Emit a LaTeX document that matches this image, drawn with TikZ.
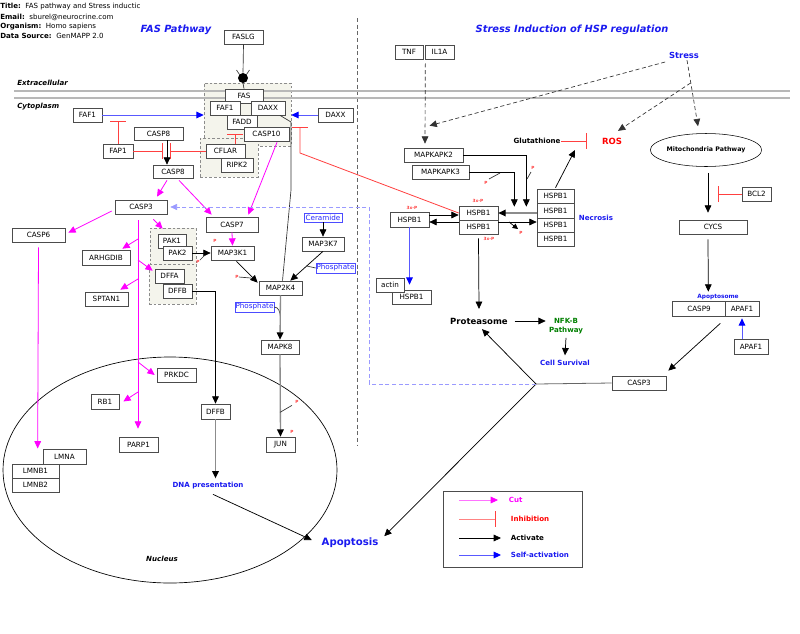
\documentclass[tikz,border=0pt]{standalone}
\usepackage{fontspec}
\setmainfont{DejaVu Sans}
\usetikzlibrary{arrows.meta,fit,calc,shapes.geometric}
\definecolor{inhred}{HTML}{FF4040}
\definecolor{grpfill}{HTML}{F4F4EC}
\definecolor{ttlblue}{HTML}{1A1AF0}
\definecolor{lav}{HTML}{9A9AFF}
\definecolor{nfk}{HTML}{008000}
\definecolor{magc}{HTML}{FF00FF}
\newcommand\fsz[1]{\fontsize{#1}{#1}\selectfont}
\newcommand\nbox[6]{\node[box, minimum width={(#4-#2)*0.75pt}, minimum height={(#5-#3)*0.75pt}] (#1) at ({(#2+#4)/2},{(#3+#5)/2}) {#6};}
\newcommand\lbox[6]{\node[lblbox, minimum width={(#4-#2)*0.75pt}, minimum height={(#5-#3)*0.75pt}] (#1) at ({(#2+#4)/2},{(#3+#5)/2}) {#6};}
\tikzset{
 box/.style={draw=black!70, fill=white, inner sep=0pt, line width=0.5pt, font=\fsz{5.4}},
 grp/.style={draw=black!45, dash pattern=on 2pt off 1.5pt, fill=grpfill, inner sep=0pt, line width=0.4pt},
 lblbox/.style={draw=blue!70, fill=white, inner sep=0pt, text=blue!85, font=\fsz{5.4}},
 txt/.style={inner sep=0.5pt, font=\fsz{5.3}\bfseries},
 hdr/.style={inner sep=0pt, anchor=west, font=\fsz{5.3}},
 pm/.style={inner sep=0pt, text=inhred, font=\fsz{3.2}\bfseries},
 ln/.style={draw=black!80, line width=0.5pt},
 act/.style={draw=black, line width=0.55pt, -{Triangle[length=5.5pt,width=5pt]}},
 gact/.style={draw=black!45, line width=1pt, -{Triangle[length=5.5pt,width=5pt,color=black]}},
 cut/.style={draw=magc, line width=0.6pt, -{Triangle[length=5.5pt,width=5pt]}},
 inh/.style={draw=inhred, line width=0.6pt, -{Bar[width=12pt,line width=0.9pt]}},
 self/.style={draw=blue!65, line width=0.7pt, -{Triangle[length=5.5pt,width=5pt,color=blue]}},
 dact/.style={draw=black!80, line width=0.5pt, dash pattern=on 3pt off 2pt, -{Triangle[length=5.5pt,width=5pt]}},
 lavd/.style={draw=lav, line width=0.5pt, dash pattern=on 3pt off 2pt, -{Triangle[length=5pt,width=4.5pt,color=lav]}},
}
\begin{document}
\begin{tikzpicture}[x=0.75pt,y=-0.75pt]
\fill[white] (0,0) rectangle (800,633);
\path[use as bounding box] (0,0) rectangle (800,633);

% header
\node[hdr] (h1) at (0,7) {\textbf{Title:}~~FAS pathway and Stress inductic};
\node[hdr] (h2) at (0,17) {\textbf{Email:}~~sburel@neurocrine.com};
\node[hdr] (h3) at (0,27) {\textbf{Organism:}~~Homo sapiens};
\node[hdr] (h4) at (0,35.5) {\textbf{Data Source:}~~GenMAPP 2.0};
\node[inner sep=0pt, text=ttlblue, font=\fsz{7.4}\bfseries\itshape] (t1) at (176,30) {FAS Pathway};
\node[inner sep=0pt, text=ttlblue, font=\fsz{7.4}\bfseries\itshape] (t2) at (572,30) {Stress Induction of HSP regulation};
\node[hdr, font=\fsz{5.3}\bfseries\itshape] (extra) at (17,83) {Extracellular};
\node[hdr, font=\fsz{5.3}\bfseries\itshape] (cyto) at (17,107) {Cytoplasm};

% divider
\draw[black!60, dash pattern=on 3pt off 2pt, line width=0.5pt] (357,18) -- (357,445);

% groups
\node[grp, fit={(204,83) (291,146)}] (fasgrp) {};
\node[grp, fit={(200,138) (258,177)}] (cflgrp) {};
\node[grp, fit={(150,228) (196,264)}] (pakgrp) {};
\node[grp, fit={(149,264) (196,304)}] (dffgrp) {};

% membrane
\draw[black!28, line width=1.3pt] (14,91) -- (790,91);
\draw[black!28, line width=1.3pt] (14,98) -- (790,98);

% nucleus
\draw[line width=0.5pt] (170,470) ellipse [x radius=125.25pt, y radius=84.75pt];
\node[inner sep=0pt, font=\fsz{5.3}\bfseries\itshape] (nucl) at (162,559) {Nucleus};

% FAS complex
\nbox{faslg}{224}{30}{263}{44}{FASLG}
\node[circle, fill=black, inner sep=0pt, minimum size=7.5pt] (dot) at (243,78) {};
\nbox{fas}{225}{89}{263}{103}{FAS}
\nbox{faf1in}{210}{101}{240}{115}{FAF1}
\nbox{daxxin}{251}{101}{285}{115}{DAXX}
\nbox{fadd}{227}{115}{257}{129}{FADD}
\nbox{casp10}{244}{127}{289}{141}{CASP10}
\nbox{cflar}{206}{144}{245}{158}{CFLAR}
\nbox{ripk2}{221}{158}{253}{172}{RIPK2}
\nbox{faf1}{73}{108}{102}{122}{FAF1}
\nbox{daxx}{318}{108}{353}{122}{DAXX}
\nbox{casp8a}{134}{127}{183}{140}{CASP8}
\nbox{fap1}{103}{144}{133}{158}{FAP1}
\nbox{casp8b}{153}{165}{193}{178}{CASP8}
\nbox{casp3}{115}{200}{167}{214}{CASP3}
\nbox{casp6}{12}{228}{65}{242}{CASP6}
\nbox{arhgdib}{82}{250}{130}{265}{ARHGDIB}
\nbox{sptan1}{85}{292}{128}{306}{SPTAN1}
\nbox{pak1}{158}{234}{186}{248}{PAK1}
\nbox{pak2}{163}{246}{192}{260}{PAK2}
\nbox{dffa}{155}{269}{184}{283}{DFFA}
\nbox{dffb}{163}{284}{192}{298}{DFFB}
\nbox{casp7}{206}{217}{258}{232}{CASP7}
\nbox{map3k1}{211}{246}{254}{260}{MAP3K1}
\nbox{map2k4}{259}{281}{302}{295}{MAP2K4}
\nbox{map3k7}{302}{237}{344}{251}{MAP3K7}
\nbox{mapk8}{261}{340}{299}{354}{MAPK8}
\nbox{jun}{266}{437}{295}{452}{JUN}
\nbox{prkdc}{157}{368}{196}{382}{PRKDC}
\nbox{rb1}{91}{394}{119}{409}{RB1}
\nbox{parp1}{119}{437}{158}{452}{PARP1}
\nbox{lmna}{43}{449}{86}{464}{LMNA}
\nbox{lmnb1}{12}{464}{59}{478}{LMNB1}
\nbox{lmnb2}{12}{478}{59}{492}{LMNB2}
\nbox{dffb2}{201}{404}{230}{419}{DFFB}
\lbox{ceramide}{304}{213}{342}{222}{Ceramide}
\lbox{phos1}{316}{263}{355}{273}{Phosphate}
\lbox{phos2}{235}{302}{274}{312}{Phosphate}

% right side nodes
\nbox{tnf}{395}{45}{423}{59}{TNF}
\nbox{il1a}{425}{45}{454}{59}{IL1A}
\nbox{mapkapk2}{404}{148}{463}{162}{MAPKAPK2}
\nbox{mapkapk3}{412}{165}{469}{179}{MAPKAPK3}
\nbox{hspb1l}{390}{212}{429}{227}{HSPB1}
\nbox{hspb1ca}{459}{206}{498}{220}{HSPB1}
\nbox{hspb1cb}{459}{220}{498}{234}{HSPB1}
\nbox{hspb1ra}{537}{189}{574}{203}{HSPB1}
\nbox{hspb1rb}{537}{203}{574}{218}{HSPB1}
\nbox{hspb1rc}{537}{218}{574}{232}{HSPB1}
\nbox{hspb1rd}{537}{232}{574}{246}{HSPB1}
\nbox{hspb1a}{392}{290}{431}{304}{HSPB1}
\nbox{actin}{376}{278}{404}{292}{actin}
\nbox{bcl2}{742}{187}{771}{201}{BCL2}
\nbox{cycs}{679}{220}{747}{234}{CYCS}
\nbox{casp9}{672}{301}{726}{316}{CASP9}
\nbox{apaf1a}{725}{301}{759}{316}{APAF1}
\nbox{apaf1b}{734}{339}{768}{354}{APAF1}
\nbox{casp3r}{612}{376}{666}{390}{CASP3}
\node[draw, ellipse, inner sep=0pt, minimum width=78pt, minimum height=24.75pt, font=\fsz{4.7}\bfseries] (mito) at (706,150) {Mitochondria Pathway};

% text labels
\node[txt, text=ttlblue, font=\fsz{6.3}\bfseries] (stress) at (684,55) {Stress};
\node[txt, text=red, font=\fsz{6.4}\bfseries] (ros) at (612,141) {ROS};
\node[txt] (glut) at (537,141) {Glutathione};
\node[txt, text=ttlblue] (necro) at (596,218) {Necrosis};
\node[txt, font=\fsz{6.4}\bfseries] (proteasome) at (479,321) {Proteasome};
\node[txt, text=nfk, align=center, font=\fsz{5.3}\bfseries] (nfkb) at (566,326) {NFK-B\\[1.5pt]Pathway};
\node[txt, text=ttlblue] (cellsurv) at (565,363) {Cell Survival};
\node[txt, text=ttlblue, font=\fsz{4.4}\bfseries] (apoptosome) at (718,297) {Apoptosome};
\node[txt, text=ttlblue] (dna) at (208,486) {DNA presentation};
\node[txt, text=ttlblue, font=\fsz{7.6}\bfseries] (apoptosis) at (350,543) {Apoptosis};

% P markers
\node[pm] (p1) at (215,241) {P};
\node[pm] (p2) at (198,262) {P};
\node[pm] (p3) at (237,277) {P};
\node[pm] (p4) at (297,402) {P};
\node[pm] (p5) at (292,432) {P};
\node[pm] (p6) at (521,233) {P};
\node[pm] (p7) at (533,168) {P};
\node[pm] (p8) at (486,183) {P};
\node[pm] (x1) at (412,208) {3x-P};
\node[pm] (x2) at (478,201) {3x-P};
\node[pm] (x3) at (489,239) {3x-P};

% ===== FAS connectors
\draw[ln] (faslg.south) -- (dot.north);
\draw[ln] (dot.south) -- (fas.north);
\draw[ln] (236.5,70) -- (239.5,74.5);
\draw[ln] (249.5,70) -- (246.5,74.5);
\draw[self] (faf1.east) -- (faf1.east -| fasgrp.west);
\draw[self] (daxx.west) -- (daxx.west -| fasgrp.east);
\draw[inh] (fap1.north) -- ($(fap1.north)+(0,-23)$);
\draw[inh] (fap1.east) -- ($(fap1.east)+(30,0)$);
\draw[inh] (cflar.west) -- ($(cflar.west)+(-36,0)$);
\draw[act] ($(casp8a.south)+(8.5,0)$) -- ($(casp8b.north)+(-6,0)$);
\draw[inh] ($(cflar.north)+(9.5,0)$) -- ($(cflar.north)+(9.5,-10)$);
\draw[ln] ($(daxxin.south)+(12,0)$) -- (291,122) -- (291,190) -- ($(map2k4.north)+(2,0)$);
\draw[inh] (hspb1ca.west) -- (300,153) -- (300,127);

% ===== caspase cuts
\draw[cut] ($(casp8b.south)+(-6,2)$) -- ($(casp3.north)+(16,-3)$);
\draw[cut] ($(casp8b.south)+(6,2)$) -- ($(casp7.north west)+(6,-2)$);
\draw[cut] ($(casp10.south)+(10.5,1)$) -- ($(casp7.north east)+(-10,-2)$);
\draw[cut] ($(casp3.west)+(-3,4)$) -- ($(casp6.north east)+(3,5)$);
\draw[cut] ($(casp3.south east)+(-14,5)$) -- ($(pakgrp.north west)+(13,1)$);
\coordinate (cv0) at ($(casp3.south)+(-3,6)$);
\draw[cut] (cv0) -- ($(cv0 |- parp1.north)+(0,-8)$);
\draw[cut] (138,239) -- ($(arhgdib.north east)+(-8,-1)$);
\draw[cut] (138,260) -- ($(dffgrp.north west)+(4,7)$);
\draw[cut] (138,279) -- ($(sptan1.north east)+(-8,-2)$);
\draw[cut] (138,362) -- ($(prkdc.west)+(-2,0)$);
\draw[cut] (138,392) -- ($(rb1.east)+(4,0)$);
\draw[cut] ($(casp6.south)+(0,5)$) -- ($(lmna.west)+(-5,-8)$);

% ===== MAP kinases
\draw[act] (pak2.east) -- (map3k1.west |- pak2.east);
\draw[cut] (casp7.south) -- (map3k1.north);
\draw[act] ($(map3k1.south)+(4,1)$) -- ($(map2k4.north west)+(-1,2)$);
\draw[act] (ceramide.south) -- (map3k7.north);
\draw[act] (map3k7.south) -- ($(map2k4.north east)+(-12,0)$);
\draw[ln] (phos1.west) -- ($(phos1.west)+(-9,-2)$);
\draw[ln] (phos2.east) to[out=0, in=95] ($(map2k4.south)+(0,22)$);
\draw[gact] (map2k4.south) -- (mapk8.north);
\draw[gact] (mapk8.south) -- (jun.north);
\draw[ln] ($(mapk8.south)+(0,58)$) -- ++(12,-7);
\draw[ln] (p2.north east) -- ++(5,-5);
\draw[ln] (p3.east) -- ++(12,1);
\draw[act] (dffb.east) -| (dffb2.north);
\draw[gact] (dffb2.south) -- ($(dffb2.south)+(0,59)$);
\draw[act] ($(dna.south)+(5,4)$) -- ($(apoptosis.west)+(-9,-3)$);

% ===== HSP side
\draw[dact] ($(tnf.south east)+(2,4)$) -- ($(mapkapk2.north)+(-8.5,-4)$);
\coordinate (sb) at (690.6,83);
\draw[dact] ($(stress.south)+(3,1)$) -- ($(mito.north)+(-8,-7)$);
\draw[dact] (sb) -- ($(ros.north)+(6,-6)$);
\draw[dact] ($(stress.west)+(-3,7)$) -- ($(mapkapk2.north)+(-4,-22)$);
\draw[act] (mapkapk2.east) -| ($(hspb1ca.north east)+(28,1)$);
\draw[act] (mapkapk3.east) -| ($(hspb1ca.north east)+(16,1)$);
\draw[ln] (527,179) -- (531,172);
\draw[ln] (489,179) -- (500,173);
\draw[act] ($(hspb1l.east)+(0,-4.5)$) -- ($(hspb1ca.west)+(0,2)$);
\draw[act] ($(hspb1cb.west)+(0,-5)$) -- ($(hspb1l.east)+(0,2.5)$);
\draw[gact] (hspb1rb.west |- hspb1ca.east) -- (hspb1ca.east);
\draw[act] ($(hspb1cb.east)+(0,-5)$) -- ($(hspb1rc.west)+(0,-3)$);
\draw[act, -{Triangle[length=4pt,width=4pt]}] (509,222) -- (518,229);
\draw[self] (hspb1l.south) -- ($(hspb1l.south |- hspb1a.north)+(0,-5)$);
\draw[act] ($(hspb1cb.south)+(0,4)$) -- ($(proteasome.north)+(0,-8)$);
\coordinate (rosarr) at (575,150);
\draw[act] ($(hspb1ra.north)+(0,-1)$) -- (rosarr);
\draw[inh] (glut.east) -- ($(ros.west)+(-14,0)$);
\draw[act] ($(proteasome.east)+(6,0)$) -- ($(proteasome.east)+(37,0)$);
\draw[act] ($(nfkb.south)+(0,3)$) -- ($(cellsurv.north)+(0,-4)$);

\draw[act] ($(mito.south)+(2,6)$) -- ($(cycs.north)+(-5,-7)$);
\draw[inh] (bcl2.west) -- ($(bcl2.west)+(-24,0)$);
\draw[act] ($(cycs.south)+(-5,5)$) -- ($(casp9.north east)+(-18,-9)$);
\draw[self] (apaf1b.north -| apaf1a.south) -- ($(apaf1a.south)+(0,2)$);
\draw[act] ($(casp9.south east)+(-6,7)$) -- ($(casp3r.north east)+(2,-5)$);

\coordinate (jn) at (536,384);
\draw[black!60, line width=0.6pt] (casp3r.west) -- (jn);
\draw[act] (jn) -- ($(proteasome.south)+(3,4)$);
\draw[act] (jn) -- ($(apoptosis.north east)+(5,-1)$);
\draw[lavd] (jn) -| (369,207) -- ($(casp3.east)+(3,0)$);

% ===== legend
\node[draw=black!70, fill=white, line width=0.6pt, inner sep=0pt, fit={(443,491) (582,567)}] (legend) {};
\coordinate (la1) at (459,500); \coordinate (la2) at (498,500);
\coordinate (lb1) at (459,519); \coordinate (lb2) at (496,519);
\coordinate (lc1) at (459,538); \coordinate (lc2) at (501,538);
\coordinate (ld1) at (459,555); \coordinate (ld2) at (501,555);
\draw[cut, draw=magc!55, -{Triangle[length=5.5pt,width=5pt,color=magc]}] (la1) -- (la2);
\draw[inh, draw=inhred!65, -{Bar[width=12pt,line width=0.9pt,color=inhred]}] (lb1) -- (lb2);
\draw[act] (lc1) -- (lc2);
\draw[self] (ld1) -- (ld2);
\node[txt, anchor=west, text=magc] (lt1) at (508,500) {Cut};
\node[txt, anchor=west, text=red] (lt2) at (510,519) {Inhibition};
\node[txt, anchor=west] (lt3) at (510,538) {Activate};
\node[txt, anchor=west, text=ttlblue] (lt4) at (510,555) {Self-activation};
\end{tikzpicture}
\end{document}
